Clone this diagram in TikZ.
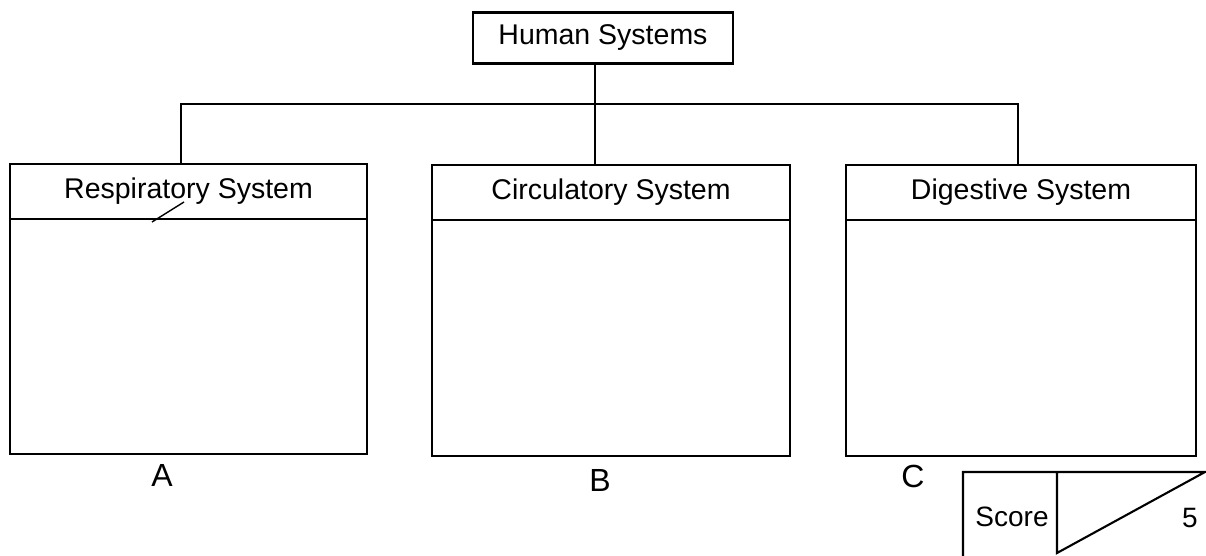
\documentclass[tikz,border=0pt]{standalone}
\usepackage{fontspec}
\setmainfont{Liberation Sans}
\begin{document}
\begin{tikzpicture}[x=1pt,y=-1pt,
  ln/.style={line width=2.1pt,black},
  boxhead/.style={draw,ln,anchor=north west,inner sep=0pt,outer sep=0pt,font=\fontsize{28.5}{31}\selectfont},
  boxbody/.style={draw,ln,anchor=north west,inner sep=0pt,outer sep=0pt},
  lbl/.style={font=\fontsize{32}{34}\selectfont,inner sep=0pt},
  txt/.style={font=\fontsize{28}{30}\selectfont,inner sep=0pt}]
\useasboundingbox (0,0) rectangle (1206,556);
% top box
\node[draw,ln,outer sep=0pt,minimum width=260pt,minimum height=51pt,inner sep=0pt,font=\fontsize{28.5}{31}\selectfont] (hs) at (603,38) {Human Systems};
% system boxes
\node[boxhead,minimum width=357pt,minimum height=55pt] (resp) at (10,164) {Respiratory System};
\node[boxbody,minimum width=357pt,minimum height=235pt] (respb) at (resp.south west) {};
\node[boxhead,minimum width=358pt,minimum height=55pt] (circ) at (432,165) {Circulatory System};
\node[boxbody,minimum width=358pt,minimum height=236pt] (circb) at (circ.south west) {};
\node[boxhead,minimum width=350pt,minimum height=55pt] (dig) at (846,165) {Digestive System};
\node[boxbody,minimum width=350pt,minimum height=236pt] (digb) at (dig.south west) {};
% connectors
\coordinate (j) at (595,104);
\coordinate (lj) at (181,104);
\coordinate (rj) at (1018,104);
\draw[ln] (j |- hs.south) -- (j |- circ.north);
\draw[ln] (lj |- resp.north) -- (lj) -- (rj) -- (rj |- dig.north);
% pen stroke
\coordinate (ps1) at (152,222);
\coordinate (ps2) at (184,202);
\draw[line width=1.4pt] (ps1) -- (ps2);
% letters
\node[lbl] (la) at (162,475) {A};
\node[lbl] (lb) at (600,480) {B};
\node[lbl] (lc) at (913,476) {C};
% score box
\coordinate (s1) at (963,472);
\coordinate (s2) at (1205,472);
\coordinate (s3) at (1057,472);
\coordinate (s4) at (1057,553);
\coordinate (s5) at (963,556);
\draw[ln] (s5) -- (s1) -- (s2) -- (s4) -- (s3);
\node[txt] (score) at (1012,517) {Score};
\node[txt] (five) at (1190,518) {5};
\end{tikzpicture}
\end{document}
